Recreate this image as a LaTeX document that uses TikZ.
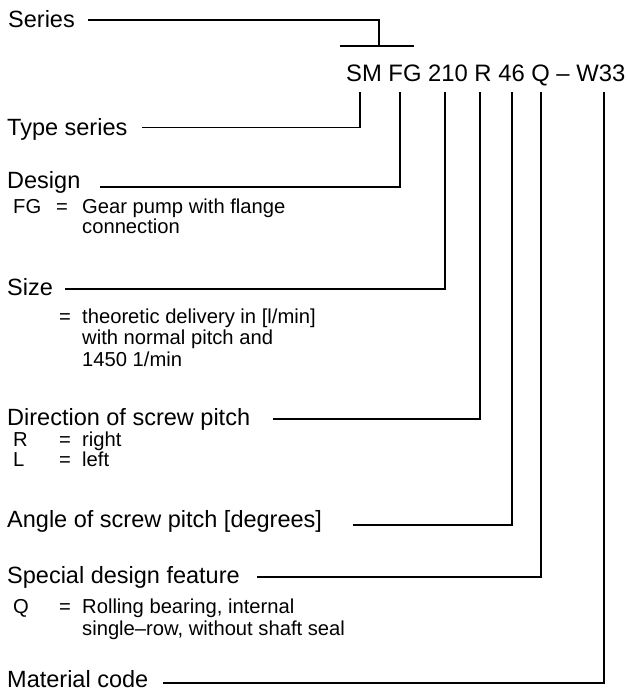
\documentclass[tikz,border=0pt]{standalone}
\usepackage{fontspec}
\setmainfont{Liberation Sans}
\begin{document}
\begin{tikzpicture}[x=1pt,y=-1pt,
  head/.style={anchor=base west,inner sep=0pt,font=\fontsize{23.5}{24}\selectfont},
  sub/.style={anchor=base west,inner sep=0pt,font=\fontsize{20.2}{22}\selectfont},
  code/.style={anchor=base west,inner sep=0pt,font=\fontsize{23.8}{24}\selectfont},
  conn/.style={line width=1.3pt},
  bar/.style={line width=2pt}]
\useasboundingbox (0,0) rectangle (627,693);

% code
\node[code] (codetext) at (346,81.5) {SM FG 210 R 46 Q -- W33};
\coordinate (kSM) at (360,92);
\coordinate (kFG) at (400,92);
\coordinate (kSZ) at (445,92);
\coordinate (kR)  at (480,92);
\coordinate (kA)  at (512,92);
\coordinate (kQ)  at (541,92);
\coordinate (kW)  at (604,92);

% Series
\node[head] (series) at (8,28) {Series};
\coordinate (sS) at (88,20);
\coordinate (barL) at (340,46);
\coordinate (barR) at (414,46);
\coordinate (barM) at (379,46);
\draw[conn] (sS) -| (barM);
\draw[bar] (barL) -- (barR);

% Type series
\node[head] (types) at (7,135) {Type series};
\coordinate (sT) at (142,127.5);
\draw[conn] (sT) -| (kSM);

% Design
\node[head] (design) at (7,188) {Design};
\coordinate (sD) at (100,187);
\draw[conn] (sD) -| (kFG);
\node[sub] (fg) at (13,213) {FG};
\node[sub] (fgeq) at (56,213) {=};
\node[sub] (fgt1) at (82,213) {Gear pump with flange};
\node[sub] (fgt2) at (82,233) {connection};

% Size
\node[head] (size) at (7,295) {Size};
\coordinate (sZ) at (65,289);
\draw[conn] (sZ) -| (kSZ);
\node[sub] (szeq) at (59,323) {=};
\node[sub] (szt1) at (82,323) {theoretic delivery in [l/min]};
\node[sub] (szt2) at (82,344.5) {with normal pitch and};
\node[sub] (szt3) at (82,366) {1450 1/min};

% Direction
\node[head] (dir) at (7,425.5) {Direction of screw pitch};
\coordinate (sR) at (273,419);
\draw[conn] (sR) -| (kR);
\node[sub] (rr) at (13,446) {R};
\node[sub] (req) at (59,446) {=};
\node[sub] (rt) at (82,446) {right};
\node[sub] (ll) at (13,466) {L};
\node[sub] (leq) at (59,466) {=};
\node[sub] (lt) at (82,466) {left};

% Angle
\node[head] (angle) at (7,527) {Angle of screw pitch [degrees]};
\coordinate (sA) at (353,525);
\draw[conn] (sA) -| (kA);

% Special
\node[head] (spec) at (7,583) {Special design feature};
\coordinate (sQ) at (257,577);
\draw[conn] (sQ) -| (kQ);
\node[sub] (qq) at (13,613) {Q};
\node[sub] (qeq) at (59,613) {=};
\node[sub] (qt1) at (82,613) {Rolling bearing, internal};
\node[sub] (qt2) at (82,635) {single--row, without shaft seal};

% Material
\node[head] (mat) at (7,687.5) {Material code};
\coordinate (sW) at (163,683);
\draw[conn] (sW) -| (kW);
\end{tikzpicture}
\end{document}
